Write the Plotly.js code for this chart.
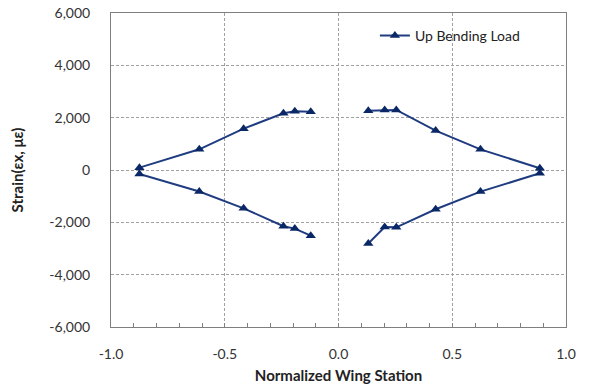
<!DOCTYPE html>
<html>
<head>
<meta charset="utf-8">
<script src="https://cdn.plot.ly/plotly-3.0.1.min.js"></script>
<style>html,body{margin:0;padding:0;background:#fff;}</style>
</head>
<body>
<div id="chart" style="width:591px;height:392px;"></div>
<script>
// Left wing: upper surface (root -> tip), then lower surface (tip -> root)
const leftStation = [-0.122, -0.192, -0.242, -0.417, -0.612, -0.875, -0.875, -0.612, -0.417, -0.242, -0.192, -0.122];
const leftStrain  = [2230, 2245, 2170, 1580, 790, 90, -150, -820, -1465, -2150, -2240, -2510];
// Right wing: upper surface (root -> tip), then lower surface (tip -> root)
const rightStation = [0.131, 0.203, 0.254, 0.427, 0.624, 0.885, 0.885, 0.624, 0.427, 0.254, 0.203, 0.131];
const rightStrain  = [2265, 2295, 2295, 1505, 790, 65, -125, -825, -1500, -2190, -2180, -2810];
const seriesName = "Up Bending Load";
const xTicks = [-1.0, -0.5, 0.0, 0.5, 1.0];
const yTicks = [-6000, -4000, -2000, 0, 2000, 4000, 6000];

const xs = leftStation.concat([null], rightStation);
const ys = leftStrain.concat([null], rightStrain);

const font = "Lato, 'Noto Sans', sans-serif";
const trace = {
  x: xs, y: ys, name: seriesName, type: "scatter", mode: "lines+markers",
  connectgaps: false,
  line: {color: "#1F3C80", width: 2},
  marker: {symbol: "triangle-up", size: 9, color: "#0B2866"}
};
const layout = {
  width: 591, height: 392,
  margin: {l: 111, r: 25, t: 13, b: 65},
  paper_bgcolor: "#fff", plot_bgcolor: "#fff",
  font: {family: font, size: 14, color: "#333"},
  showlegend: true,
  legend: {x: 0.58, y: 0.978, xanchor: "left", yanchor: "top", bgcolor: "rgba(0,0,0,0)",
           font: {family: font, size: 14, color: "#222"}},
  xaxis: {
    range: [-1, 1], tickvals: xTicks, ticktext: xTicks.map(v => v.toFixed(1)),
    showgrid: true, gridcolor: "#a0a0a0", griddash: "3px,2px", gridwidth: 1,
    zeroline: false, showline: true, linecolor: "#7f7f7f", linewidth: 1, mirror: true,
    ticks: "inside", ticklen: 4, tickcolor: "#7f7f7f",
    minor: {dtick: 0.1, ticks: "inside", ticklen: 4, tickcolor: "#7f7f7f", showgrid: false},
    ticklabelstandoff: 14,
    title: {text: "<b>Normalized Wing Station</b>", font: {family: font, size: 15, color: "#222"}, standoff: 9}
  },
  yaxis: {
    range: [-6000, 6000], tickvals: yTicks, ticktext: yTicks.map(v => v.toLocaleString("en-US")),
    showgrid: true, gridcolor: "#a0a0a0", griddash: "3px,2px", gridwidth: 1,
    zeroline: false, showline: true, linecolor: "#7f7f7f", linewidth: 1, mirror: true,
    ticks: "", ticklabelstandoff: 17,
    title: {text: "<b>Strain(εx, με)</b>", font: {family: font, size: 15, color: "#222"}, standoff: 22}
  }
};
Plotly.newPlot("chart", [trace], layout, {displayModeBar: false, staticPlot: true});
</script>
</body>
</html>
